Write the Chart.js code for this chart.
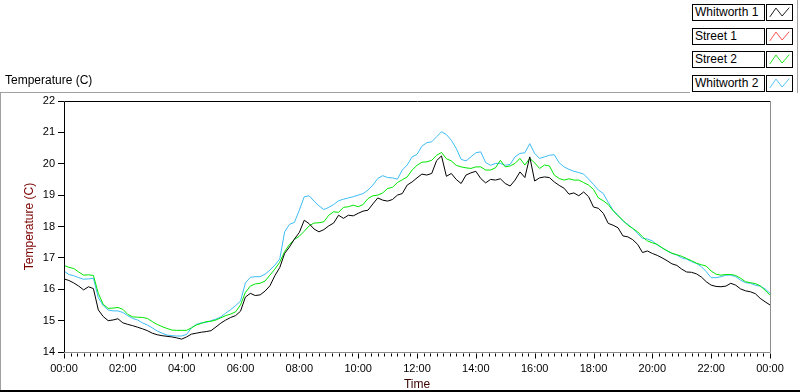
<!DOCTYPE html>
<html>
<head>
<meta charset="utf-8">
<script src="https://cdn.jsdelivr.net/npm/chart.js@4.4.0/dist/chart.umd.min.js"></script>
<style>
	html, body { margin: 0; padding: 0; background: #ffffff; }
	#wrap { position: relative; width: 800px; height: 392px; overflow: hidden; font-family: "Liberation Sans", Arial, sans-serif; }
	#graphCanvas { position: absolute; left: 0; top: 0; }
	.title { position: absolute; left: 5px; top: 73px; font-size: 12px; color: #000; }
	.frameTop { position: absolute; left: 0; top: 92px; width: 690px; height: 1px; background: #a0a0a0; }
	.frameLeft { position: absolute; left: 0; top: 92px; width: 1px; height: 300px; background: #a0a0a0; }
	.frameBottom { position: absolute; left: 0; top: 390px; width: 800px; height: 2px; background: #000; }
	.legendEdge { position: absolute; left: 797px; top: 0; width: 1px; height: 93px; background: #a0a0a0; }
	.legName { position: absolute; left: 692px; width: 69px; height: 15px; border: 1px solid #000; background: #fff;
		font-size: 12px; line-height: 15px; padding-left: 2px; color: #000; white-space: nowrap; }
	.legIcon { position: absolute; left: 766px; width: 27px; height: 17px; border: 1px solid #000; background: #fff; box-sizing: border-box; }
</style>
</head>
<body>
<div id="wrap">
	<canvas id="graphCanvas" width="800" height="392"></canvas>
	<div class="frameTop"></div>
	<div class="frameLeft"></div>
	<div class="frameBottom"></div>
	<div class="legendEdge"></div>
	<div class="title">Temperature (C)</div>
	<div id="legend"></div>
</div>
<script>
//	Chart data (one sample per 10 minutes, 00:00 -> 24:00)
var sampleStepMin = 10;

var seriesNames = ['Whitworth 1', 'Street 1', 'Street 2', 'Whitworth 2'];
var seriesColors = ['#000000', '#ff3a3a', '#00e600', '#3cbcf4'];

var whitworth1 = [
	16.33, 16.28, 16.2, 16.1, 15.98, 16.08, 16.02, 15.34, 15.13, 15.0, 15.02, 15.06, 14.93, 14.88, 14.84, 14.79, 14.74, 14.68,
	14.6, 14.55, 14.52, 14.5, 14.48, 14.45, 14.41, 14.48, 14.57, 14.6, 14.63, 14.65, 14.68, 14.8, 14.92, 15.02, 15.1, 15.16,
	15.3, 15.75, 15.87, 15.8, 15.82, 15.94, 16.11, 16.43, 16.69, 17.14, 17.35, 17.6, 17.81, 18.2, 18.09, 17.92, 17.83, 17.9,
	18.02, 18.11, 18.36, 18.26, 18.36, 18.34, 18.42, 18.49, 18.52, 18.72, 18.91, 18.84, 18.81, 18.86, 19.0, 19.05, 19.32, 19.42,
	19.55, 19.67, 19.64, 19.69, 20.1, 20.25, 19.6, 19.69, 19.5, 19.37, 19.64, 19.71, 19.76, 19.53, 19.39, 19.5, 19.48, 19.52,
	19.37, 19.29, 19.48, 19.74, 19.56, 20.22, 19.45, 19.55, 19.58, 19.56, 19.42, 19.31, 19.22, 19.03, 19.07, 18.98, 19.1, 18.95,
	18.62, 18.58, 18.42, 18.1, 18.04, 17.96, 17.7, 17.67, 17.58, 17.43, 17.17, 17.22, 17.14, 17.08, 17.0, 16.91, 16.81, 16.76,
	16.64, 16.55, 16.54, 16.49, 16.39, 16.24, 16.13, 16.09, 16.08, 16.1, 16.19, 16.13, 16.01, 15.95, 15.92, 15.86, 15.71, 15.6,
	15.5
];
var street1 = [];
var street2 = [
	16.76, 16.7, 16.66, 16.55, 16.45, 16.46, 16.44, 15.87, 15.52, 15.39, 15.4, 15.42, 15.36, 15.2, 15.12, 15.11, 15.1, 15.07,
	14.97, 14.88, 14.81, 14.75, 14.7, 14.69, 14.69, 14.69, 14.77, 14.86, 14.91, 14.97, 14.98, 15.02, 15.09, 15.16, 15.21, 15.28,
	15.5, 15.9, 16.1, 16.17, 16.19, 16.26, 16.45, 16.64, 16.86, 17.2, 17.43, 17.59, 17.69, 17.85, 18.02, 18.11, 18.12, 18.15,
	18.36, 18.47, 18.45, 18.61, 18.63, 18.68, 18.63, 18.7, 18.89, 18.98, 19.0, 19.07, 19.21, 19.25, 19.4, 19.49, 19.58, 19.8,
	19.95, 20.05, 20.06, 20.11, 20.27, 20.36, 20.16, 20.09, 19.95, 19.9, 19.87, 19.85, 19.9, 19.9, 19.8, 19.8, 19.87, 20.11,
	19.9, 19.93, 20.01, 20.17, 19.96, 20.17, 20.03, 19.85, 19.96, 19.93, 19.64, 19.53, 19.48, 19.52, 19.48, 19.48, 19.4, 19.32,
	19.18, 18.91, 18.82, 18.7, 18.5, 18.34, 18.2, 18.04, 17.94, 17.83, 17.67, 17.54, 17.48, 17.43, 17.32, 17.23, 17.15, 17.1,
	17.05, 16.98, 16.91, 16.83, 16.78, 16.74, 16.58, 16.48, 16.45, 16.47, 16.47, 16.44, 16.35, 16.24, 16.21, 16.18, 16.11, 15.97,
	15.81
];
var whitworth2 = [
	16.58, 16.47, 16.43, 16.37, 16.32, 16.33, 16.35, 15.73, 15.48, 15.34, 15.31, 15.31, 15.26, 15.16, 15.07, 15.02, 14.93, 14.86,
	14.77, 14.67, 14.6, 14.54, 14.52, 14.51, 14.51, 14.56, 14.77, 14.88, 14.93, 14.94, 15.0, 15.05, 15.12, 15.24, 15.35, 15.48,
	15.62, 16.2, 16.38, 16.4, 16.4, 16.48, 16.61, 16.77, 16.96, 17.83, 18.07, 18.13, 18.52, 18.95, 18.98, 18.81, 18.66, 18.54,
	18.61, 18.7, 18.82, 18.87, 18.91, 18.95, 19.0, 19.05, 19.16, 19.32, 19.53, 19.62, 19.56, 19.55, 19.51, 19.8, 19.96, 20.22,
	20.3, 20.56, 20.67, 20.7, 20.86, 21.02, 20.93, 20.75, 20.49, 20.14, 20.09, 20.22, 20.35, 20.38, 20.04, 19.95, 20.01, 20.01,
	19.95, 19.98, 20.22, 20.33, 20.35, 20.64, 20.33, 20.17, 20.22, 20.27, 20.29, 20.03, 19.9, 19.82, 19.76, 19.72, 19.67, 19.51,
	19.34, 19.16, 19.05, 18.77, 18.52, 18.36, 18.17, 18.07, 17.94, 17.78, 17.62, 17.6, 17.54, 17.41, 17.32, 17.22, 17.14, 17.09,
	17.0, 16.96, 16.88, 16.82, 16.72, 16.56, 16.37, 16.37, 16.4, 16.45, 16.45, 16.4, 16.29, 16.21, 16.19, 16.13, 16.1, 16.01,
	15.87
];

var xTickLabels = ['00:00', '02:00', '04:00', '06:00', '08:00', '10:00', '12:00', '14:00', '16:00', '18:00', '20:00', '22:00', '00:00'];
var xMajorStepMin = 120;
var xMinorPerMajor = 9;
var yMin = 14, yMax = 22;

var axisFont = { family: '"Liberation Sans", Arial, sans-serif', size: 11 };
var titleFont = { family: '"Liberation Sans", Arial, sans-serif', size: 12 };

//	helpers
var toPoints = function (values) {
	var pts = [];
	for (var i = 0; i < values.length; i++) {
		pts.push({ x: i * sampleStepMin, y: values[i] });
	}
	return pts;
};

var buildLegend = function () {
	var html = '';
	for (var i = 0; i < seriesNames.length; i++) {
		var top = 4 + i * 23.5;
		html += '<div class="legName" style="top:' + top + 'px">' + seriesNames[i] + '</div>';
		html += '<svg class="legIcon" style="top:' + top + 'px" viewBox="0 0 27 17">' +
			'<polyline points="2.5,13.5 9.5,3.5 16.5,12.5 24.5,3" fill="none" stroke="' + seriesColors[i] + '" stroke-width="1"/></svg>';
	}
	document.getElementById('legend').innerHTML = html;
};

//	frame + x tick marks drawn off the chart's own scales
var framePlugin = {
	id: 'labviewFrame',
	afterDraw: function (chart) {
		var ctx = chart.ctx;
		var a = chart.chartArea;
		var xs = chart.scales.x;
		var l = Math.round(a.left) + 0.5, r = Math.round(a.right) + 0.5;
		var t = Math.round(a.top) + 0.5, b = Math.round(a.bottom) + 0.5;
		ctx.save();
		ctx.lineWidth = 1;
		// top + left dark, right + bottom grey
		ctx.strokeStyle = '#000000';
		ctx.beginPath();
		ctx.moveTo(l, b); ctx.lineTo(l, t); ctx.lineTo(r, t);
		ctx.stroke();
		ctx.strokeStyle = '#8c8c8c';
		ctx.beginPath();
		ctx.moveTo(r, t); ctx.lineTo(r, b); ctx.lineTo(l, b);
		ctx.stroke();
		// x ticks
		ctx.strokeStyle = '#000000';
		var minor = xMajorStepMin / xMinorPerMajor;
		var n = Math.round((xs.max - xs.min) / minor);
		for (var k = 0; k <= n; k++) {
			var v = xs.min + k * minor;
			var px = Math.round(xs.getPixelForValue(v)) + 0.5;
			var isMajor = (k % xMinorPerMajor) === 0;
			ctx.beginPath();
			ctx.moveTo(px, b + 1);
			ctx.lineTo(px, b + (isMajor ? 6 : 4));
			ctx.stroke();
		}
		ctx.restore();
	}
};

var graphSettings = {
	type: 'line',
	data: {
		datasets: [
			{ label: seriesNames[0], data: toPoints(whitworth1), borderColor: seriesColors[0] },
			{ label: seriesNames[1], data: toPoints(street1), borderColor: seriesColors[1] },
			{ label: seriesNames[2], data: toPoints(street2), borderColor: seriesColors[2] },
			{ label: seriesNames[3], data: toPoints(whitworth2), borderColor: seriesColors[3] }
		]
	},
	options: {
		responsive: false,
		animation: false,
		layout: { padding: { top: 101, right: 30, left: 0, bottom: 0 } },
		elements: {
			point: { radius: 0 },
			line: { borderWidth: 1, tension: 0, fill: false }
		},
		plugins: {
			legend: { display: false },
			tooltip: { enabled: false }
		},
		scales: {
			x: {
				type: 'linear',
				min: 0,
				max: 1440,
				grid: { display: false, drawOnChartArea: false, drawTicks: false },
				border: { display: false },
				ticks: {
					stepSize: xMajorStepMin,
					autoSkip: false,
					maxRotation: 0,
					padding: 10,
					color: '#000000',
					font: axisFont,
					callback: function (value) { return xTickLabels[Math.round(value / xMajorStepMin)]; }
				},
				title: {
					display: true,
					text: 'Time',
					color: '#3a0000',
					font: titleFont,
					padding: { top: 0, bottom: 0 }
				},
				afterFit: function (scale) { scale.height = 40; }
			},
			y: {
				min: yMin,
				max: yMax,
				grid: { drawOnChartArea: false, tickLength: 6, color: '#000000', tickColor: '#000000' },
				border: { display: false },
				ticks: {
					stepSize: 1,
					padding: 3,
					color: '#000000',
					font: axisFont
				},
				title: {
					display: true,
					text: 'Temperature (C)',
					color: '#7a0000',
					font: titleFont,
					padding: { top: 22, bottom: 0 }
				},
				afterFit: function (scale) { scale.width = 64; }
			}
		}
	},
	plugins: [framePlugin]
};

buildLegend();
var theGraph = new Chart(document.getElementById('graphCanvas'), graphSettings);
</script>
</body>
</html>
